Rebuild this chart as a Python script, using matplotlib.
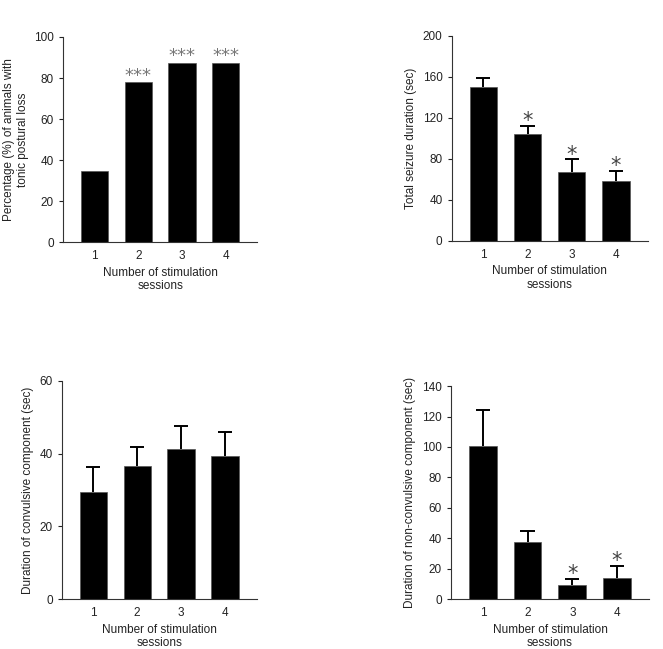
import numpy as np
import matplotlib.pyplot as plt

sessions = [1, 2, 3, 4]

pct_tonic_loss = [34.8, 78.0, 87.5, 87.5]
pct_stars = ['', '***', '***', '***']

total_mean = [150, 104, 67.5, 58]
total_err = [9, 8, 12, 10.5]
total_stars = ['', '*', '*', '*']

conv_mean = [29.5, 36.7, 41.3, 39.3]
conv_err = [6.7, 5.2, 6.4, 6.6]
conv_stars = ['', '', '', '']

nonconv_mean = [100.5, 37.5, 9.0, 14.0]
nonconv_err = [23.5, 7.0, 4.3, 8.0]
nonconv_stars = ['', '', '*', '*']

xlabel = 'Number of stimulation\nsessions'
txt = '#222222'

plt.rcParams['font.family'] = ['Liberation Sans', 'DejaVu Sans']
plt.rcParams['font.size'] = 8.5


def panel(ax, means, errs, stars, ymax, yticks, ylabel, star_color, star_off, star_size):
    x = np.array(sessions)
    means = np.array(means)
    ax.bar(x, means, width=0.62, color='black', edgecolor='#555555', linewidth=0.5)
    tops = means.copy()
    if errs is not None:
        tops = means + np.array(errs)
        ax.vlines(x, means, tops, color='black', linewidth=1.4)
        ax.hlines(tops, x - 0.16, x + 0.16, color='black', linewidth=1.4)
    for xi, t, s in zip(x, tops, stars):
        if s:
            ax.annotate(s, (xi, t), xytext=(0, star_off), textcoords='offset points',
                        ha='center', va='bottom', color=star_color,
                        fontsize=star_size, family='DejaVu Sans')
    ax.set_xlim(0.28, 4.72)
    ax.set_ylim(0, ymax)
    ax.set_yticks(yticks)
    ax.set_xticks(x)
    ax.spines['top'].set_visible(False)
    ax.spines['right'].set_visible(False)
    ax.spines['left'].set_color('#333333')
    ax.spines['bottom'].set_color('#333333')
    ax.tick_params(axis='x', length=0, pad=6, colors=txt)
    ax.tick_params(axis='y', length=3, colors=txt, width=0.8)
    ax.set_xlabel(xlabel, color=txt, labelpad=3)
    ax.set_ylabel(ylabel, color=txt)


fig = plt.figure(figsize=(6.63, 6.49), dpi=100)

ax1 = fig.add_axes([0.095, 0.627, 0.293, 0.316])
panel(ax1, pct_tonic_loss, None, pct_stars, 100, [0, 20, 40, 60, 80, 100],
      'Percentage (%) of animals with\ntonic postural loss', '#777777', -2, 13)

ax2 = fig.add_axes([0.681, 0.629, 0.296, 0.316])
panel(ax2, total_mean, total_err, total_stars, 200, [0, 40, 80, 120, 160, 200],
      'Total seizure duration (sec)', '#444444', -4, 15)

ax3 = fig.add_axes([0.093, 0.077, 0.294, 0.336])
panel(ax3, conv_mean, conv_err, conv_stars, 60, [0, 20, 40, 60],
      'Duration of convulsive component (sec)', '#444444', -4, 15)

ax4 = fig.add_axes([0.680, 0.077, 0.299, 0.328])
panel(ax4, nonconv_mean, nonconv_err, nonconv_stars, 140,
      [0, 20, 40, 60, 80, 100, 120, 140],
      'Duration of non-convulsive component (sec)', '#444444', -4, 15)

fig.savefig('out.png', dpi=100, facecolor='white')
